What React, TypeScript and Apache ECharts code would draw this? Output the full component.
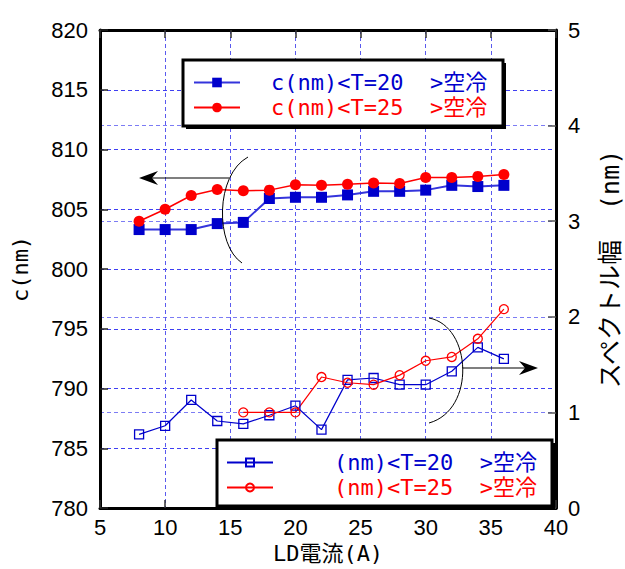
import React, { useEffect, useRef } from 'react';
import * as echarts from 'echarts';

// LD current (A)
const currents = [8, 10, 12, 14, 16, 18, 20, 22, 24, 26, 28, 30, 32, 34, 36];
// center wavelength c (nm), left axis
const cT20 = [803.3, 803.3, 803.3, 803.8, 803.9, 805.9, 806.0, 806.0, 806.2, 806.5, 806.5, 806.6, 807.0, 806.9, 807.0];
const cT25 = [804.0, 805.0, 806.15, 806.65, 806.55, 806.6, 807.05, 807.0, 807.1, 807.2, 807.15, 807.65, 807.65, 807.75, 807.9];
// spectral width (nm), right axis
const wT20 = [0.77, 0.86, 1.13, 0.91, 0.88, 0.97, 1.07, 0.82, 1.34, 1.36, 1.29, 1.29, 1.43, 1.68, 1.56];
const currents25 = [16, 18, 20, 22, 24, 26, 28, 30, 32, 34, 36];
const wT25 = [1.0, 1.0, 1.0, 1.37, 1.31, 1.29, 1.39, 1.54, 1.58, 1.77, 2.08];

const seriesNames = [
  'c(nm)<T=20  >空冷',
  'c(nm)<T=25  >空冷',
  '(nm)<T=20  >空冷',
  '(nm)<T=25  >空冷',
];
const xAxisName = 'LD電流(A)';
const leftAxisName = 'c(nm)';
const rightAxisName = 'スペクトル幅  (nm)';

const BLUE = '#0000cc';
const RED = '#ff0000';
const MONO = '"DejaVu Sans Mono", "Noto Sans CJK JP", sans-serif';
const SANS = '"Liberation Sans", Arial, sans-serif';

const pairs = (xs: number[], ys: number[]) => xs.map((x, i) => [x, ys[i]]);

export default function App() {
  const ref = useRef<HTMLDivElement>(null);
  useEffect(() => {
    document.body.style.margin = '0';
    const chart = echarts.init(ref.current!, undefined, { renderer: 'svg' });
    const dashed = (color: string) => ({ show: true, lineStyle: { color, type: [4, 3] as any, width: 1 } });
    const frame = { show: true, lineStyle: { color: '#000', width: 3 } };
    chart.setOption({
      animation: false,
      backgroundColor: '#fff',
      grid: {
        left: 100, right: 69, top: 30, bottom: 61,
        outerBoundsMode: 'none', containLabel: false,
      },
      xAxis: [
        {
          type: 'value', min: 5, max: 40, interval: 5, position: 'bottom',
          name: xAxisName, nameLocation: 'middle', nameGap: 34,
          nameTextStyle: { fontFamily: MONO, fontSize: 22, color: '#000' },
          axisLine: frame,
          axisTick: { show: true, inside: true, length: 8, lineStyle: { color: '#333', width: 1.5 } },
          axisLabel: { fontFamily: SANS, fontSize: 22, color: '#000', margin: 8 },
          splitLine: dashed('#5a5aee'),
        },
        {
          type: 'value', min: 5, max: 40, interval: 5, position: 'top',
          axisLine: frame,
          axisTick: { show: true, inside: true, length: 8, lineStyle: { color: '#333', width: 1.5 } },
          axisLabel: { show: false },
          splitLine: { show: false },
        },
      ],
      yAxis: [
        {
          type: 'value', min: 780, max: 820, interval: 5, position: 'left',
          name: leftAxisName, nameLocation: 'middle', nameGap: 69, nameRotate: 90,
          nameTextStyle: { fontFamily: MONO, fontSize: 22, color: '#000' },
          axisLine: frame,
          axisTick: { show: true, inside: true, length: 8, lineStyle: { color: '#222', width: 1.5 } },
          axisLabel: { fontFamily: SANS, fontSize: 22, color: '#000', margin: 12 },
          splitLine: dashed('#3f3ff2'),
        },
        {
          type: 'value', min: 0, max: 5, interval: 1, position: 'right',
          name: rightAxisName, nameLocation: 'middle', nameGap: 42, nameRotate: 90,
          nameTextStyle: { fontFamily: MONO, fontSize: 25, color: '#000' },
          axisLine: frame,
          axisTick: { show: true, inside: true, length: 8, lineStyle: { color: '#555', width: 1.5 } },
          axisLabel: { fontFamily: SANS, fontSize: 22, color: '#000', margin: 12 },
          splitLine: dashed('#7c7cf4'),
        },
      ],
      legend: [
        {
          z: 20, left: 193, top: 70, orient: 'vertical', padding: 0, itemGap: 0,
          itemWidth: 46, itemHeight: 12, selectedMode: false,
          textStyle: { fontFamily: MONO, fontSize: 22, lineHeight: 25, padding: [0, 0, 0, 26] },
          data: [
            { name: seriesNames[0], textStyle: { color: BLUE } },
            { name: seriesNames[1], textStyle: { color: RED } },
          ],
        },
        {
          z: 20, left: 226, top: 450, orient: 'vertical', padding: 0, itemGap: 0,
          itemWidth: 46, itemHeight: 10, selectedMode: false,
          textStyle: { fontFamily: MONO, fontSize: 22, lineHeight: 25, padding: [0, 0, 0, 56] },
          data: [
            { name: seriesNames[2], textStyle: { color: BLUE } },
            { name: seriesNames[3], textStyle: { color: RED } },
          ],
        },
      ],
      graphic: [
        // legend boxes (shadow + framed box)
        { type: 'rect', z: 10, shape: { x: 186, y: 63, width: 320, height: 66 }, style: { fill: '#000' } },
        { type: 'rect', z: 11, shape: { x: 183, y: 60, width: 320, height: 66 }, style: { fill: '#fff', stroke: '#000', lineWidth: 3 } },
        { type: 'rect', z: 10, shape: { x: 220, y: 443, width: 335, height: 66 }, style: { fill: '#000' } },
        { type: 'rect', z: 11, shape: { x: 217, y: 440, width: 335, height: 66 }, style: { fill: '#fff', stroke: '#000', lineWidth: 3 } },
        // left bracket + arrow (c axis)
        { type: 'bezierCurve', z: 12, shape: { x1: 248, y1: 157, cpx1: 215, cpy1: 175, cpx2: 215, cpy2: 245, x2: 242, y2: 263 }, style: { stroke: '#000', lineWidth: 1, fill: 'none' } },
        { type: 'line', z: 12, shape: { x1: 229, y1: 178, x2: 150, y2: 178 }, style: { stroke: '#000', lineWidth: 1.2 } },
        { type: 'polygon', z: 12, shape: { points: [[139, 178], [158, 171], [152, 178], [158, 185]] }, style: { fill: '#000' } },
        // right bracket + arrow (spectral width axis)
        { type: 'bezierCurve', z: 12, shape: { x1: 429, y1: 318, cpx1: 472, cpy1: 326, cpx2: 476, cpy2: 410, x2: 429, y2: 423 }, style: { stroke: '#000', lineWidth: 1, fill: 'none' } },
        { type: 'line', z: 12, shape: { x1: 462, y1: 368, x2: 528, y2: 368 }, style: { stroke: '#000', lineWidth: 1.2 } },
        { type: 'polygon', z: 12, shape: { points: [[538, 368], [519, 361], [525, 368], [519, 375]] }, style: { fill: '#000' } },
      ],
      series: [
        {
          name: seriesNames[2], type: 'line', xAxisIndex: 0, yAxisIndex: 1,
          data: pairs(currents, wT20), symbol: 'rect', symbolSize: 9,
          itemStyle: { color: 'transparent', borderColor: BLUE, borderWidth: 1.3 },
          lineStyle: { color: BLUE, width: 1.2 },
        },
        {
          name: seriesNames[3], type: 'line', xAxisIndex: 0, yAxisIndex: 1,
          data: pairs(currents25, wT25), symbol: 'circle', symbolSize: 9,
          itemStyle: { color: 'transparent', borderColor: RED, borderWidth: 1.3 },
          lineStyle: { color: RED, width: 1.2 },
        },
        {
          name: seriesNames[0], type: 'line', xAxisIndex: 0, yAxisIndex: 0,
          data: pairs(currents, cT20), symbol: 'rect', symbolSize: 11,
          itemStyle: { color: BLUE },
          lineStyle: { color: '#3434dc', width: 2 },
        },
        {
          name: seriesNames[1], type: 'line', xAxisIndex: 0, yAxisIndex: 0,
          data: pairs(currents, cT25), symbol: 'circle', symbolSize: 11,
          itemStyle: { color: RED },
          lineStyle: { color: RED, width: 1.5 },
        },
      ],
    });
    return () => chart.dispose();
  }, []);
  return <div ref={ref} style={{ width: 625, height: 569 }} />;
}
